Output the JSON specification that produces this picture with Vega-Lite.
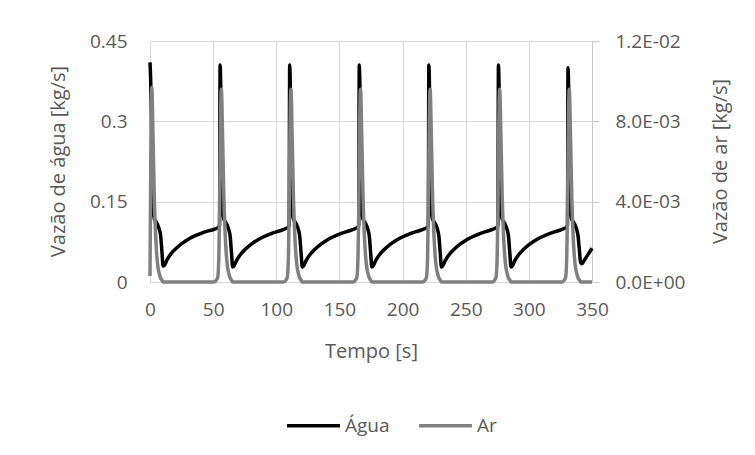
{
  "$schema": "https://vega.github.io/schema/vega-lite/v6.json",
  "width": 442,
  "height": 241,
  "autosize": "none",
  "padding": {"left": 150, "top": 41, "right": 163, "bottom": 173},
  "background": "white",
  "config": {"view": {"stroke": null}, "font": "Open Sans"},
  "data": {"values": [
    {"tempo": 0, "agua": 0.41, "ar": 0.0003},
    {"tempo": 0.5, "agua": 0.38, "ar": 0.005},
    {"tempo": 1.4, "agua": 0.28, "ar": 0.0097},
    {"tempo": 2.4, "agua": 0.135, "ar": 0.0072},
    {"tempo": 3.4, "agua": 0.118, "ar": 0.0042},
    {"tempo": 4.4, "agua": 0.114, "ar": 0.0024},
    {"tempo": 5.4, "agua": 0.110, "ar": 0.0013},
    {"tempo": 6.4, "agua": 0.105, "ar": 0.0007},
    {"tempo": 7.4, "agua": 0.098, "ar": 0.0004},
    {"tempo": 8.4, "agua": 0.087, "ar": 0.0002},
    {"tempo": 9.4, "agua": 0.058, "ar": 0.0001},
    {"tempo": 10.4, "agua": 0.030, "ar": 0},
    {"tempo": 11.4, "agua": 0.031, "ar": 0},
    {"tempo": 13.4, "agua": 0.041, "ar": 0},
    {"tempo": 16.4, "agua": 0.052, "ar": 0},
    {"tempo": 20.4, "agua": 0.062, "ar": 0},
    {"tempo": 25.4, "agua": 0.072, "ar": 0},
    {"tempo": 30.4, "agua": 0.080, "ar": 0},
    {"tempo": 35.4, "agua": 0.086, "ar": 0},
    {"tempo": 40.4, "agua": 0.091, "ar": 0},
    {"tempo": 45.4, "agua": 0.095, "ar": 0},
    {"tempo": 50.4, "agua": 0.098, "ar": 0},
    {"tempo": 53.5, "agua": 0.101, "ar": 0.0002},
    {"tempo": 54.5, "agua": 0.103, "ar": 0.0012},
    {"tempo": 55.1, "agua": 0.106, "ar": 0.0035},
    {"tempo": 55.5, "agua": 0.405, "ar": 0.0062},
    {"tempo": 56.5, "agua": 0.29, "ar": 0.0096},
    {"tempo": 57.5, "agua": 0.135, "ar": 0.0072},
    {"tempo": 58.5, "agua": 0.117, "ar": 0.0042},
    {"tempo": 59.5, "agua": 0.113, "ar": 0.0024},
    {"tempo": 60.5, "agua": 0.109, "ar": 0.0013},
    {"tempo": 61.5, "agua": 0.104, "ar": 0.0007},
    {"tempo": 62.5, "agua": 0.097, "ar": 0.0004},
    {"tempo": 63.5, "agua": 0.085, "ar": 0.0002},
    {"tempo": 64.5, "agua": 0.055, "ar": 0.0001},
    {"tempo": 65.5, "agua": 0.028, "ar": 0},
    {"tempo": 66.5, "agua": 0.030, "ar": 0},
    {"tempo": 68.5, "agua": 0.040, "ar": 0},
    {"tempo": 71.5, "agua": 0.051, "ar": 0},
    {"tempo": 75.5, "agua": 0.061, "ar": 0},
    {"tempo": 80.5, "agua": 0.071, "ar": 0},
    {"tempo": 85.5, "agua": 0.079, "ar": 0},
    {"tempo": 90.5, "agua": 0.085, "ar": 0},
    {"tempo": 95.5, "agua": 0.090, "ar": 0},
    {"tempo": 100.5, "agua": 0.094, "ar": 0},
    {"tempo": 105.5, "agua": 0.098, "ar": 0},
    {"tempo": 108.6, "agua": 0.101, "ar": 0.0002},
    {"tempo": 109.6, "agua": 0.103, "ar": 0.0012},
    {"tempo": 110.2, "agua": 0.106, "ar": 0.0035},
    {"tempo": 110.6, "agua": 0.405, "ar": 0.0062},
    {"tempo": 111.6, "agua": 0.29, "ar": 0.0096},
    {"tempo": 112.6, "agua": 0.135, "ar": 0.0072},
    {"tempo": 113.6, "agua": 0.117, "ar": 0.0042},
    {"tempo": 114.6, "agua": 0.113, "ar": 0.0024},
    {"tempo": 115.6, "agua": 0.109, "ar": 0.0013},
    {"tempo": 116.6, "agua": 0.104, "ar": 0.0007},
    {"tempo": 117.6, "agua": 0.097, "ar": 0.0004},
    {"tempo": 118.6, "agua": 0.085, "ar": 0.0002},
    {"tempo": 119.6, "agua": 0.055, "ar": 0.0001},
    {"tempo": 120.6, "agua": 0.028, "ar": 0},
    {"tempo": 121.6, "agua": 0.030, "ar": 0},
    {"tempo": 123.6, "agua": 0.040, "ar": 0},
    {"tempo": 126.6, "agua": 0.051, "ar": 0},
    {"tempo": 130.6, "agua": 0.061, "ar": 0},
    {"tempo": 135.6, "agua": 0.071, "ar": 0},
    {"tempo": 140.6, "agua": 0.079, "ar": 0},
    {"tempo": 145.6, "agua": 0.085, "ar": 0},
    {"tempo": 150.6, "agua": 0.090, "ar": 0},
    {"tempo": 155.6, "agua": 0.094, "ar": 0},
    {"tempo": 160.6, "agua": 0.098, "ar": 0},
    {"tempo": 163.7, "agua": 0.101, "ar": 0.0002},
    {"tempo": 164.7, "agua": 0.103, "ar": 0.0012},
    {"tempo": 165.3, "agua": 0.106, "ar": 0.0035},
    {"tempo": 165.7, "agua": 0.405, "ar": 0.0062},
    {"tempo": 166.7, "agua": 0.29, "ar": 0.0096},
    {"tempo": 167.7, "agua": 0.135, "ar": 0.0072},
    {"tempo": 168.7, "agua": 0.117, "ar": 0.0042},
    {"tempo": 169.7, "agua": 0.113, "ar": 0.0024},
    {"tempo": 170.7, "agua": 0.109, "ar": 0.0013},
    {"tempo": 171.7, "agua": 0.104, "ar": 0.0007},
    {"tempo": 172.7, "agua": 0.097, "ar": 0.0004},
    {"tempo": 173.7, "agua": 0.085, "ar": 0.0002},
    {"tempo": 174.7, "agua": 0.055, "ar": 0.0001},
    {"tempo": 175.7, "agua": 0.028, "ar": 0},
    {"tempo": 176.7, "agua": 0.030, "ar": 0},
    {"tempo": 178.7, "agua": 0.040, "ar": 0},
    {"tempo": 181.7, "agua": 0.051, "ar": 0},
    {"tempo": 185.7, "agua": 0.061, "ar": 0},
    {"tempo": 190.7, "agua": 0.071, "ar": 0},
    {"tempo": 195.7, "agua": 0.079, "ar": 0},
    {"tempo": 200.7, "agua": 0.085, "ar": 0},
    {"tempo": 205.7, "agua": 0.090, "ar": 0},
    {"tempo": 210.7, "agua": 0.094, "ar": 0},
    {"tempo": 215.7, "agua": 0.098, "ar": 0},
    {"tempo": 218.8, "agua": 0.101, "ar": 0.0002},
    {"tempo": 219.8, "agua": 0.103, "ar": 0.0012},
    {"tempo": 220.4, "agua": 0.106, "ar": 0.0035},
    {"tempo": 220.8, "agua": 0.405, "ar": 0.0062},
    {"tempo": 221.8, "agua": 0.29, "ar": 0.0096},
    {"tempo": 222.8, "agua": 0.135, "ar": 0.0072},
    {"tempo": 223.8, "agua": 0.117, "ar": 0.0042},
    {"tempo": 224.8, "agua": 0.113, "ar": 0.0024},
    {"tempo": 225.8, "agua": 0.109, "ar": 0.0013},
    {"tempo": 226.8, "agua": 0.104, "ar": 0.0007},
    {"tempo": 227.8, "agua": 0.097, "ar": 0.0004},
    {"tempo": 228.8, "agua": 0.085, "ar": 0.0002},
    {"tempo": 229.8, "agua": 0.055, "ar": 0.0001},
    {"tempo": 230.8, "agua": 0.028, "ar": 0},
    {"tempo": 231.8, "agua": 0.030, "ar": 0},
    {"tempo": 233.8, "agua": 0.040, "ar": 0},
    {"tempo": 236.8, "agua": 0.051, "ar": 0},
    {"tempo": 240.8, "agua": 0.061, "ar": 0},
    {"tempo": 245.8, "agua": 0.071, "ar": 0},
    {"tempo": 250.8, "agua": 0.079, "ar": 0},
    {"tempo": 255.8, "agua": 0.085, "ar": 0},
    {"tempo": 260.8, "agua": 0.090, "ar": 0},
    {"tempo": 265.8, "agua": 0.094, "ar": 0},
    {"tempo": 270.8, "agua": 0.098, "ar": 0},
    {"tempo": 273.9, "agua": 0.101, "ar": 0.0002},
    {"tempo": 274.9, "agua": 0.103, "ar": 0.0012},
    {"tempo": 275.5, "agua": 0.106, "ar": 0.0035},
    {"tempo": 275.9, "agua": 0.405, "ar": 0.0062},
    {"tempo": 276.9, "agua": 0.29, "ar": 0.0096},
    {"tempo": 277.9, "agua": 0.135, "ar": 0.0072},
    {"tempo": 278.9, "agua": 0.117, "ar": 0.0042},
    {"tempo": 279.9, "agua": 0.113, "ar": 0.0024},
    {"tempo": 280.9, "agua": 0.109, "ar": 0.0013},
    {"tempo": 281.9, "agua": 0.104, "ar": 0.0007},
    {"tempo": 282.9, "agua": 0.097, "ar": 0.0004},
    {"tempo": 283.9, "agua": 0.085, "ar": 0.0002},
    {"tempo": 284.9, "agua": 0.055, "ar": 0.0001},
    {"tempo": 285.9, "agua": 0.028, "ar": 0},
    {"tempo": 286.9, "agua": 0.030, "ar": 0},
    {"tempo": 288.9, "agua": 0.040, "ar": 0},
    {"tempo": 291.9, "agua": 0.051, "ar": 0},
    {"tempo": 295.9, "agua": 0.061, "ar": 0},
    {"tempo": 300.9, "agua": 0.071, "ar": 0},
    {"tempo": 305.9, "agua": 0.079, "ar": 0},
    {"tempo": 310.9, "agua": 0.085, "ar": 0},
    {"tempo": 315.9, "agua": 0.090, "ar": 0},
    {"tempo": 320.9, "agua": 0.094, "ar": 0},
    {"tempo": 325.9, "agua": 0.098, "ar": 0},
    {"tempo": 329, "agua": 0.101, "ar": 0.0002},
    {"tempo": 330, "agua": 0.103, "ar": 0.0012},
    {"tempo": 330.6, "agua": 0.106, "ar": 0.0035},
    {"tempo": 331, "agua": 0.400, "ar": 0.0062},
    {"tempo": 332, "agua": 0.29, "ar": 0.0096},
    {"tempo": 333, "agua": 0.135, "ar": 0.0072},
    {"tempo": 334, "agua": 0.117, "ar": 0.0042},
    {"tempo": 335, "agua": 0.113, "ar": 0.0024},
    {"tempo": 336, "agua": 0.109, "ar": 0.0013},
    {"tempo": 337, "agua": 0.104, "ar": 0.0007},
    {"tempo": 338, "agua": 0.097, "ar": 0.0004},
    {"tempo": 339, "agua": 0.085, "ar": 0.0002},
    {"tempo": 340, "agua": 0.060, "ar": 0.0001},
    {"tempo": 341, "agua": 0.036, "ar": 0},
    {"tempo": 342, "agua": 0.034, "ar": 0},
    {"tempo": 344, "agua": 0.041, "ar": 0},
    {"tempo": 347, "agua": 0.052, "ar": 0},
    {"tempo": 350, "agua": 0.063, "ar": 0}
  ]},
  "layer": [
    {
      "mark": {"type": "line", "interpolate": "monotone", "strokeWidth": 3.5},
      "encoding": {
        "x": {
          "field": "tempo", "type": "quantitative",
          "scale": {"domain": [0, 350], "nice": false, "zero": false},
          "axis": {
            "title": "Tempo [s]", "values": [0, 50, 100, 150, 200, 250, 300, 350],
            "grid": true, "gridColor": "#d9d9d9", "gridWidth": 1,
            "domain": false, "ticks": false, "labelPadding": 18,
            "labelFlush": false, "labelOverlap": false,
            "labelFontSize": 19, "labelColor": "#595959", "labelFont": "Open Sans",
            "titleFontSize": 20, "titleColor": "#595959", "titleFont": "Open Sans", "titleFontWeight": "normal",
            "titleBaseline": "middle", "titleY": 69
          }
        },
        "y": {
          "field": "agua", "type": "quantitative",
          "scale": {"domain": [0, 0.45], "nice": false},
          "axis": {
            "title": "Vazão de água [kg/s]", "values": [0, 0.15, 0.3, 0.45],
            "labelExpr": "'' + datum.value",
            "grid": true, "gridColor": "#d9d9d9", "gridWidth": 1,
            "domain": false, "ticks": false, "labelPadding": 23,
            "labelFlush": false, "labelOverlap": false,
            "labelFontSize": 19, "labelColor": "#595959", "labelFont": "Open Sans",
            "titleFontSize": 20, "titleColor": "#595959", "titleFont": "Open Sans", "titleFontWeight": "normal",
            "titleAngle": -90, "titleBaseline": "middle", "titleAlign": "center", "titleX": -92, "titleY": 120
          }
        },
        "color": {
          "datum": "Água", "type": "nominal",
          "scale": {"domain": ["Água", "Ar"], "range": ["#000000", "#808080"]},
          "legend": {
            "title": null, "orient": "none", "direction": "horizontal",
            "legendX": 135, "legendY": 356,
            "symbolType": "stroke", "symbolSize": 2800, "symbolStrokeWidth": 3.5,
            "labelFontSize": 19, "labelColor": "#595959", "labelFont": "Open Sans",
            "labelOffset": 3, "columnPadding": 22
          }
        }
      }
    },
    {
      "mark": {"type": "line", "interpolate": "monotone", "strokeWidth": 3.5},
      "encoding": {
        "x": {"field": "tempo", "type": "quantitative"},
        "y": {
          "field": "ar", "type": "quantitative",
          "scale": {"domain": [0, 0.012], "nice": false},
          "axis": {
            "orient": "right", "title": "Vazão de ar [kg/s]", "values": [0, 0.004, 0.008, 0.012],
            "labelExpr": "replace(replace(format(datum.value, '.1e'), 'e-', 'E-0'), 'e+', 'E+0')",
            "grid": false, "domain": true, "domainColor": "#c8c8c8", "domainWidth": 1,
            "ticks": true, "tickColor": "#c8c8c8", "tickSize": 7, "tickWidth": 1, "labelPadding": 16,
            "labelFlush": false, "labelOverlap": false,
            "labelFontSize": 19, "labelColor": "#595959", "labelFont": "Open Sans",
            "titleFontSize": 20, "titleColor": "#595959", "titleFont": "Open Sans", "titleFontWeight": "normal",
            "titleAngle": -90, "titleBaseline": "middle", "titleAlign": "center", "titleX": 128, "titleY": 120
          }
        },
        "color": {"datum": "Ar", "type": "nominal"}
      }
    }
  ],
  "resolve": {"scale": {"y": "independent"}}
}
